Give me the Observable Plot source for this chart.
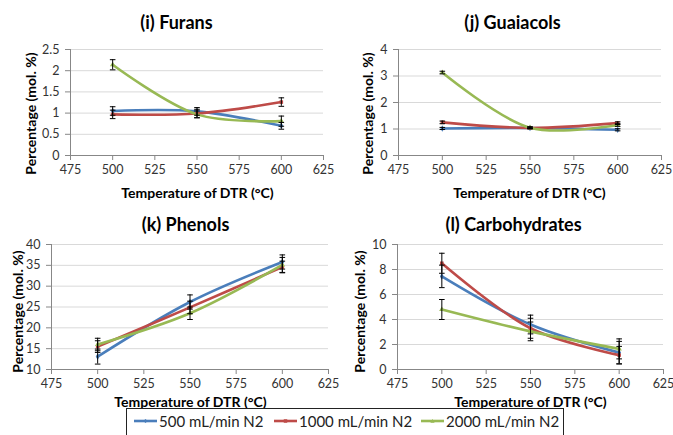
<!DOCTYPE html>
<html><head><meta charset="utf-8">
<script src="https://cdn.jsdelivr.net/npm/d3@7"></script>
<script src="https://cdn.jsdelivr.net/npm/@observablehq/plot@0.6"></script>
<style>
body{margin:0;background:#fff;}
#wrap{position:relative;width:673px;height:435px;font-family:Lato,"Open Sans",sans-serif;overflow:hidden;}
#wrap svg{position:absolute;}
#legend{position:absolute;left:126px;top:408px;width:438px;height:30px;border:1px solid #222;background:#fff;box-sizing:border-box;}
.li{position:absolute;top:3px;font-size:15px;color:#222;white-space:nowrap;display:flex;align-items:center;}
.li svg{position:static !important;margin-right:2px;}
</style></head>
<body><div id="wrap"></div>
<script>
// ---- data ----
const temps = [500, 550, 600];
const series = ["500 mL/min N2", "1000 mL/min N2", "2000 mL/min N2"];
const colors = ["#4A7EBB", "#BE4B48", "#98B954"];
const xTicks = [475, 500, 525, 550, 575, 600, 625];

const furans500 = [1.05, 1.04, 0.70];
const furans1000 = [0.97, 0.99, 1.26];
const furans2000 = [2.14, 0.97, 0.81];
const furansErr500 = [0.10, 0.09, 0.08];
const furansErr1000 = [0.10, 0.10, 0.10];
const furansErr2000 = [0.12, 0.08, 0.12];
const furansTicks = [0, 0.5, 1, 1.5, 2, 2.5];

const guaiacols500 = [1.02, 1.04, 0.97];
const guaiacols1000 = [1.25, 1.04, 1.22];
const guaiacols2000 = [3.13, 1.05, 1.15];
const guaiacolsErr500 = [0.04, 0.03, 0.04];
const guaiacolsErr1000 = [0.05, 0.03, 0.05];
const guaiacolsErr2000 = [0.05, 0.03, 0.05];
const guaiacolsTicks = [0, 1, 2, 3, 4];

const phenols500 = [13.1, 26.2, 35.8];
const phenols1000 = [15.5, 24.9, 34.6];
const phenols2000 = [16.0, 23.5, 35.1];
const phenolsErr500 = [1.8, 1.7, 1.7];
const phenolsErr1000 = [1.4, 1.5, 1.4];
const phenolsErr2000 = [1.5, 1.5, 1.8];
const phenolsTicks = [10, 15, 20, 25, 30, 35, 40];

const carbs500 = [7.45, 3.6, 1.35];
const carbs1000 = [8.5, 3.3, 1.15];
const carbs2000 = [4.8, 3.05, 1.65];
const carbsErr500 = [0.9, 0.75, 0.9];
const carbsErr1000 = [0.8, 0.8, 0.7];
const carbsErr2000 = [0.8, 0.75, 0.8];
const carbsTicks = [0, 2, 4, 6, 8, 10];

const titles = ["(i) Furans", "(j) Guaiacols", "(k) Phenols", "(l) Carbohydrates"];
const yLabel = "Percentage (mol. %)";
const xLabel = "Temperature of DTR (°C)";

const panels = [
  {title: titles[0], values: [furans500, furans1000, furans2000], errs: [furansErr500, furansErr1000, furansErr2000], ticks: furansTicks},
  {title: titles[1], values: [guaiacols500, guaiacols1000, guaiacols2000], errs: [guaiacolsErr500, guaiacolsErr1000, guaiacolsErr2000], ticks: guaiacolsTicks},
  {title: titles[2], values: [phenols500, phenols1000, phenols2000], errs: [phenolsErr500, phenolsErr1000, phenolsErr2000], ticks: phenolsTicks},
  {title: titles[3], values: [carbs500, carbs1000, carbs2000], errs: [carbsErr500, carbsErr1000, carbsErr2000], ticks: carbsTicks}
];

// ---- layout (page pixel coordinates) ----
const layout = [
  {left:0, top:0, width:336, height:200, mL:70, mR:13, mT:49, mB:45, title:[176,23], ylab:[31,113], xlab:[197,193]},
  {left:336, top:0, width:337, height:200, mL:62, mR:12, mT:49, mB:45, title:[512,23], ylab:[368,113], xlab:[529,193]},
  {left:0, top:200, width:336, height:210, mL:51, mR:8, mT:44, mB:41, title:[185,225], ylab:[18,311], xlab:[190,402]},
  {left:336, top:200, width:337, height:210, mL:61, mR:10, mT:44, mB:41, title:[513,225], ylab:[360,311], xlab:[530,402]}
];

const cap = {draw(ctx, size){ const w = Math.sqrt(size / Math.PI); ctx.moveTo(-w, 0); ctx.lineTo(w, 0); }};
const axisColor = "#878787";
const wrap = document.getElementById("wrap");

panels.forEach((p, k) => {
  const L = layout[k];
  const data = [];
  series.forEach((s, i) => temps.forEach((t, j) => data.push({series: s, t, v: p.values[i][j], e: p.errs[i][j]})));
  const lab = (txt, pos, o) => Plot.text([txt], Object.assign({
    frameAnchor: "top-left",
    dx: pos[0] - L.left - L.mL,
    dy: pos[1] - L.top - L.mT,
    textAnchor: "middle", lineAnchor: "middle", fill: "#000", fontWeight: "bold"
  }, o));
  const yDom = [p.ticks[0], p.ticks[p.ticks.length - 1]];
  const svg = Plot.plot({
    width: L.width, height: L.height,
    marginLeft: L.mL, marginRight: L.mR, marginTop: L.mT, marginBottom: L.mB,
    style: {fontFamily: "Lato, 'Open Sans', sans-serif", fontSize: "12.5px", background: "transparent", overflow: "visible"},
    x: {domain: [475, 625]},
    y: {domain: yDom},
    color: {domain: series, range: colors},
    symbol: {domain: series, range: ["diamond", "square", "triangle"]},
    marks: [
      Plot.gridY(p.ticks, {stroke: "#D9D9D9", strokeOpacity: 1}),
      Plot.axisY(p.ticks, {tickSize: 5, tickPadding: 6, stroke: axisColor, fill: "#333", tickFormat: d => String(d), label: null}),
      Plot.axisX(xTicks, {tickSize: 5, tickPadding: 5, stroke: axisColor, fill: "#333", tickFormat: d => String(d), label: null}),
      Plot.ruleX([475], {stroke: axisColor}),
      Plot.ruleY([yDom[0]], {stroke: axisColor}),
      Plot.line(data, {x: "t", y: "v", z: "series", stroke: "series", curve: "catmull-rom", strokeWidth: 2.6}),
      Plot.dot(data, {x: "t", y: "v", fill: "series", symbol: "series", r: 2}),
      Plot.ruleX(data, {x: "t", y1: d => d.v - d.e, y2: d => d.v + d.e, stroke: "#000", strokeWidth: 1}),
      Plot.dot(data, {x: "t", y: d => d.v + d.e, symbol: cap, r: 2.8, stroke: "#000", fill: "none", strokeWidth: 1}),
      Plot.dot(data, {x: "t", y: d => d.v - d.e, symbol: cap, r: 2.8, stroke: "#000", fill: "none", strokeWidth: 1}),
      lab(p.title, L.title, {fontSize: 18}),
      lab(yLabel, L.ylab, {fontSize: 14, rotate: -90}),
      lab(xLabel, L.xlab, {fontSize: 14})
    ]
  });
  svg.style.left = L.left + "px";
  svg.style.top = L.top + "px";
  wrap.appendChild(svg);
});

// ---- legend ----
const legend = document.createElement("div");
legend.id = "legend";
const itemLeft = [7, 147, 294];
const markers = ["M0,-3L3,0L0,3L-3,0Z", "M-2.5,-2.5h5v5h-5Z", "M0,-3L3,2.5H-3Z"];
series.forEach((s, i) => {
  const d = document.createElement("div");
  d.className = "li";
  d.style.left = itemLeft[i] + "px";
  d.innerHTML = `<svg width="23" height="10" viewBox="0 -5 23 10"><line x1="0" x2="23" y1="0" y2="0" stroke="${colors[i]}" stroke-width="2.6"/><path d="${markers[i]}" fill="${colors[i]}" style="transform:translate(11.5px,0) scale(0.7)"/></svg><span>${s}</span>`;
  legend.appendChild(d);
});
wrap.appendChild(legend);
</script>
</body></html>
